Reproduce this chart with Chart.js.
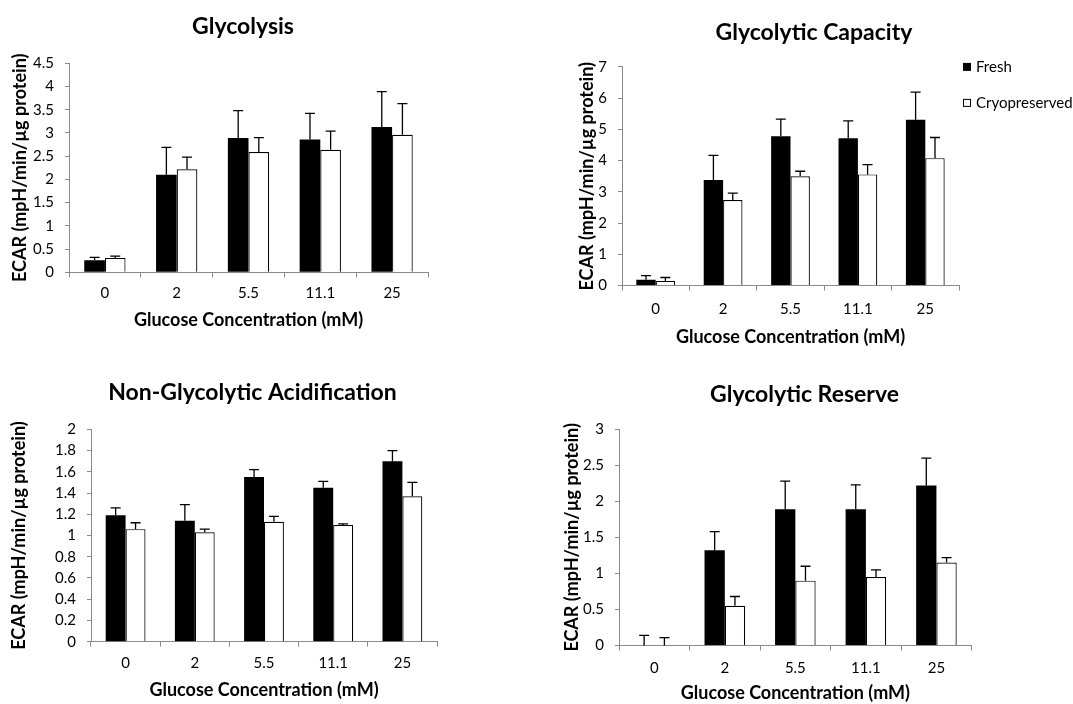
<!DOCTYPE html>
<html>
<head>
<meta charset="utf-8">
<script src="https://cdn.jsdelivr.net/npm/chart.js@4.4.1/dist/chart.umd.min.js"></script>
<style>
  html, body { margin: 0; padding: 0; background: #fff; width: 1073px; height: 704px; overflow: hidden; }
  canvas { position: absolute; }
</style>
</head>
<body>
<canvas id="glycolysis"></canvas>
<canvas id="capacity"></canvas>
<canvas id="nonGlycolytic"></canvas>
<canvas id="reserve"></canvas>
<script>
// Glucose concentrations (mM) shared by every panel
const concentrations = ['0', '2', '5.5', '11.1', '25'];
const seriesNames = ['Fresh', 'Cryopreserved'];

// Glycolysis
const glycolysisFresh    = [0.26, 2.10, 2.89, 2.86, 3.13];
const glycolysisFreshErr = [0.06, 0.59, 0.59, 0.56, 0.76];
const glycolysisCryo     = [0.31, 2.22, 2.59, 2.64, 2.96];
const glycolysisCryoErr  = [0.04, 0.26, 0.31, 0.40, 0.67];
const glycolysisTicks    = [0, 0.5, 1, 1.5, 2, 2.5, 3, 3.5, 4, 4.5];

// Glycolytic capacity
const capacityFresh    = [0.19, 3.38, 4.78, 4.72, 5.31];
const capacityFreshErr = [0.13, 0.79, 0.55, 0.55, 0.88];
const capacityCryo     = [0.15, 2.74, 3.50, 3.56, 4.08];
const capacityCryoErr  = [0.11, 0.22, 0.16, 0.31, 0.66];
const capacityTicks    = [0, 1, 2, 3, 4, 5, 6, 7];

// Non-glycolytic acidification
const nonGlycFresh    = [1.19, 1.14, 1.55, 1.45, 1.70];
const nonGlycFreshErr = [0.07, 0.15, 0.07, 0.06, 0.10];
const nonGlycCryo     = [1.06, 1.03, 1.13, 1.10, 1.37];
const nonGlycCryoErr  = [0.06, 0.03, 0.05, 0.01, 0.13];
const nonGlycTicks    = [0, 0.2, 0.4, 0.6, 0.8, 1, 1.2, 1.4, 1.6, 1.8, 2];

// Glycolytic reserve
const reserveFresh    = [0, 1.32, 1.89, 1.89, 2.22];
const reserveFreshErr = [0.14, 0.26, 0.39, 0.34, 0.38];
const reserveCryo     = [0, 0.55, 0.90, 0.95, 1.15];
const reserveCryoErr  = [0.11, 0.13, 0.20, 0.10, 0.07];
const reserveTicks    = [0, 0.5, 1, 1.5, 2, 2.5, 3];

const FONT = 'Lato, "Open Sans", "DejaVu Sans", sans-serif';
const AXIS_GREY = '#8a8a8a';
Chart.defaults.font.family = FONT;
Chart.defaults.color = '#000';

// Upward error bars with a short cap, drawn over each bar
const errorBars = {
  id: 'errorBars',
  afterDatasetsDraw(chart) {
    const { ctx } = chart;
    const yScale = chart.scales.y;
    ctx.save();
    ctx.strokeStyle = '#000';
    ctx.lineWidth = 1.3;
    chart.data.datasets.forEach((ds, i) => {
      const meta = chart.getDatasetMeta(i);
      meta.data.forEach((bar, j) => {
        const v = ds.data[j];
        const e = ds.errors[j];
        const base = yScale.getPixelForValue(v);
        const top = yScale.getPixelForValue(v + e);
        ctx.beginPath();
        ctx.moveTo(bar.x, base);
        ctx.lineTo(bar.x, top);
        ctx.moveTo(bar.x - 5, top);
        ctx.lineTo(bar.x + 5, top);
        ctx.stroke();
      });
    });
    ctx.restore();
  }
};

// Legend column to the right of the plot, using the legend items Chart.js generates
const sideLegend = {
  id: 'sideLegend',
  afterDraw(chart, args, opts) {
    if (!opts.display) return;
    const items = (chart.legend && chart.legend.legendItems && chart.legend.legendItems.length)
      ? chart.legend.legendItems
      : Chart.defaults.plugins.legend.labels.generateLabels(chart);
    const { ctx, chartArea } = chart;
    const x0 = chartArea.right + opts.offsetX;
    ctx.save();
    ctx.font = opts.fontSize + 'px ' + FONT;
    ctx.textBaseline = 'middle';
    ctx.textAlign = 'left';
    items.forEach((item, i) => {
      const yc = chartArea.top + opts.offsetY + i * opts.rowGap;
      const s = opts.boxSize;
      ctx.fillStyle = item.fillStyle;
      ctx.fillRect(x0, yc - s / 2, s, s);
      if (item.lineWidth) {
        ctx.strokeStyle = '#000';
        ctx.lineWidth = 1;
        ctx.strokeRect(x0 + 0.5, yc - s / 2 + 0.5, s - 1, s - 1);
      }
      ctx.fillStyle = '#000';
      ctx.fillText(item.text, x0 + s + 5, yc + 0.5);
    });
    ctx.restore();
  }
};

function makePanel(cfg) {
  const canvas = document.getElementById(cfg.id);
  canvas.width = cfg.box[2];
  canvas.height = cfg.box[3];
  canvas.style.left = cfg.box[0] + 'px';
  canvas.style.top = cfg.box[1] + 'px';
  canvas.style.width = cfg.box[2] + 'px';
  canvas.style.height = cfg.box[3] + 'px';
  const ticks = cfg.ticks;
  return new Chart(canvas, {
    type: 'bar',
    data: {
      labels: concentrations,
      datasets: [
        {
          label: seriesNames[0], data: cfg.fresh, errors: cfg.freshErr,
          backgroundColor: '#000', borderColor: '#000', borderWidth: 0,
          categoryPercentage: 0.575, barPercentage: 1.0
        },
        {
          label: seriesNames[1], data: cfg.cryo, errors: cfg.cryoErr,
          backgroundColor: '#fff', borderColor: '#000', borderWidth: 1.2,
          categoryPercentage: 0.575, barPercentage: 1.0
        }
      ]
    },
    options: {
      responsive: false,
      animation: false,
      events: [],
      layout: { padding: 0, autoPadding: false },
      plugins: {
        legend: { display: false },
        tooltip: { enabled: false },
        title: {
          display: true, text: cfg.title, color: '#000',
          font: { size: 23, weight: 'bold' },
          padding: { top: cfg.titlePad[0], bottom: cfg.titlePad[1] }
        },
        sideLegend: cfg.legend || { display: false }
      },
      scales: {
        x: {
          grid: { display: true, drawOnChartArea: false, drawTicks: true, tickLength: 5, color: AXIS_GREY, offset: true },
          border: { display: true, color: AXIS_GREY, width: 1 },
          ticks: { color: '#000', font: { size: 15 }, padding: cfg.xTickPad, maxRotation: 0, autoSkip: false },
          title: {
            display: true, text: 'Glucose Concentration (mM)', color: '#000',
            font: { size: 18, weight: 'bold' }, padding: 0
          },
          afterFit(s) { s.height = cfg.xH; }
        },
        y: {
          min: 0,
          max: ticks[ticks.length - 1],
          afterBuildTicks(s) { s.ticks = ticks.map(v => ({ value: v })); },
          grid: { display: true, drawOnChartArea: false, drawTicks: true, tickLength: 4, color: AXIS_GREY },
          border: { display: true, color: AXIS_GREY, width: 1 },
          ticks: { color: '#000', font: { size: 15 }, padding: 11, callback: v => String(v) },
          title: {
            display: true, text: 'ECAR (mpH/min/µg protein)', color: '#000',
            font: { size: 18, weight: 'bold' }, padding: { top: cfg.yTitlePad, bottom: 0 }
          },
          afterFit(s) { s.width = cfg.yW; }
        },
        // empty spacer column on the right so the title centres over the panel
        spacer: {
          type: 'linear', position: 'right', display: true,
          grid: { display: false, drawTicks: false },
          border: { display: false },
          ticks: { display: false },
          afterFit(s) { s.width = cfg.padW; }
        }
      }
    },
    plugins: [errorBars, sideLegend]
  });
}

makePanel({
  id: 'glycolysis', title: 'Glycolysis',
  box: [0, 0, 486, 331], titlePad: [13.2, 22.5],
  yW: 69, padW: 58, xH: 58.7, xTickPad: 7, yTitlePad: 9.2,
  fresh: glycolysisFresh, freshErr: glycolysisFreshErr,
  cryo: glycolysisCryo, cryoErr: glycolysisCryoErr, ticks: glycolysisTicks
});

makePanel({
  id: 'capacity', title: 'Glycolytic Capacity',
  box: [555, 0, 518, 348], titlePad: [19.2, 20.1],
  yW: 67, padW: 114, xH: 62.4, xTickPad: 9.7, yTitlePad: 21.2,
  fresh: capacityFresh, freshErr: capacityFreshErr,
  cryo: capacityCryo, cryoErr: capacityCryoErr, ticks: capacityTicks,
  legend: { display: true, offsetX: 4, offsetY: 0, rowGap: 36, boxSize: 8, fontSize: 15 }
});

makePanel({
  id: 'nonGlycolytic', title: 'Non-Glycolytic Acidification',
  box: [0, 350, 505, 351], titlePad: [29.2, 22.5],
  yW: 91, padW: 68, xH: 59.3, xTickPad: 7, yTitlePad: 8.7,
  fresh: nonGlycFresh, freshErr: nonGlycFreshErr,
  cryo: nonGlycCryo, cryoErr: nonGlycCryoErr, ticks: nonGlycTicks
});

makePanel({
  id: 'reserve', title: 'Glycolytic Reserve',
  box: [560, 350, 489, 354], titlePad: [31.2, 20.5],
  yW: 59, padW: 77.3, xH: 58.5, xTickPad: 8.5, yTitlePad: 1.2,
  fresh: reserveFresh, freshErr: reserveFreshErr,
  cryo: reserveCryo, cryoErr: reserveCryoErr, ticks: reserveTicks
});
</script>
</body>
</html>
